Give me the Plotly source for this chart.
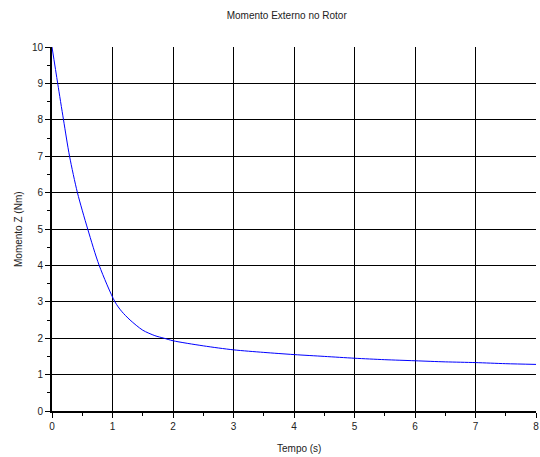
import plotly.graph_objects as go

tempo = [0, 0.094, 0.19, 0.29, 0.42, 0.59, 0.78, 1.04, 1.15, 1.29, 1.5, 1.7, 1.85,
         2.0, 2.5, 3.0, 3.5, 4.0, 4.5, 5.0, 5.5, 6.0, 6.5, 7.0, 7.5, 8.0]
momento = [10.0, 9.0, 8.0, 7.0, 6.0, 5.0, 4.0, 3.0, 2.74, 2.5, 2.22, 2.07, 2.0,
           1.93, 1.79, 1.68, 1.61, 1.55, 1.50, 1.45, 1.41, 1.38, 1.35, 1.33, 1.30, 1.28]
x_ticks = [0, 1, 2, 3, 4, 5, 6, 7, 8]
y_ticks = [0, 1, 2, 3, 4, 5, 6, 7, 8, 9, 10]

titulo = "Momento Externo no Rotor"
x_label = "Tempo (s)"
y_label = "Momento Z (Nm)"

fig = go.Figure()
fig.add_trace(go.Scatter(x=tempo, y=momento, mode="lines", line_shape="spline",
                         line=dict(color="#0000ff", width=1, smoothing=0.8), showlegend=False))

font = dict(family="Liberation Sans, Arial, sans-serif", size=10, color="#222222")
axis_common = dict(
    showgrid=True, gridcolor="black", gridwidth=1,
    showline=True, linecolor="black", linewidth=2,
    ticks="outside", ticklen=5, tickcolor="black", tickwidth=1,
    zeroline=False, tickfont=font, automargin=False, ticklabeloverflow="allow",
    minor=dict(ticks="outside", ticklen=3, tickcolor="black", showgrid=False),
)

fig.update_layout(
    width=540, height=457,
    paper_bgcolor="white", plot_bgcolor="white",
    margin=dict(l=52, r=4, t=47, b=46),
    title=dict(text=titulo, x=0.531, xanchor="center", y=0.967, yanchor="middle",
               font=dict(family="Liberation Sans, Arial, sans-serif", size=10, color="#222222")),
    font=font,
    annotations=[
        dict(text=x_label, xref="paper", yref="paper", x=0.51, y=0, xanchor="center",
             yanchor="middle", yshift=-37, showarrow=False, font=font),
        dict(text=y_label, xref="paper", yref="paper", x=0, y=0.5, xanchor="center",
             yanchor="middle", xshift=-34, textangle=-90, showarrow=False, font=font),
    ],
)
fig.update_xaxes(range=[0, 8], tickmode="array", tickvals=x_ticks,
                 ticktext=[str(v) for v in x_ticks], **axis_common)
fig.update_xaxes(minor_dtick=0.5, minor_tick0=0)
fig.update_yaxes(range=[0, 10], tickmode="array", tickvals=y_ticks,
                 ticktext=[str(v) for v in y_ticks], **axis_common)
fig.update_yaxes(minor_dtick=0.5, minor_tick0=0)

fig.write_html("out.html", config={"displayModeBar": False},
               post_script="document.body.style.margin='0';document.body.style.overflow='hidden';")
